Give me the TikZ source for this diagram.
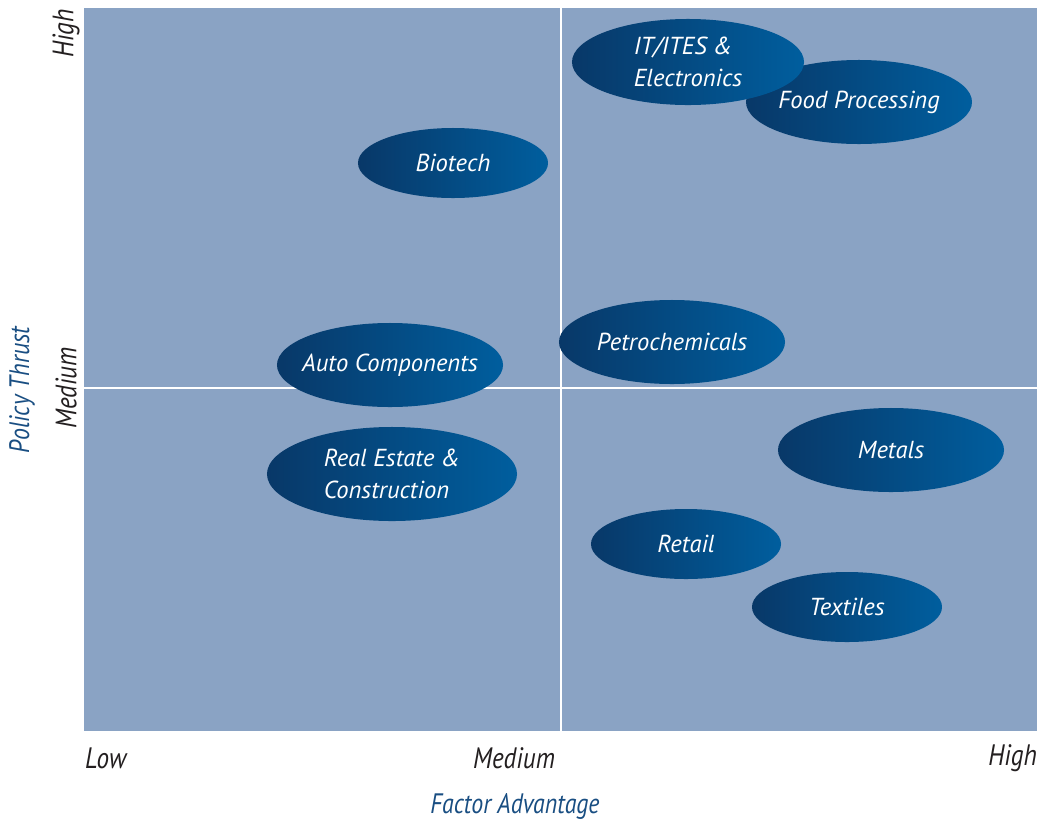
\documentclass[tikz,border=0pt]{standalone}
\usepackage{fontspec}
\usetikzlibrary{shapes.geometric}
\setmainfont{PT Sans}
\newfontfamily\axisfont[FakeStretch=0.85]{PT Sans}
\definecolor{panel}{RGB}{138,163,196}
\definecolor{darkblob}{RGB}{8,56,104}
\definecolor{lightblob}{RGB}{0,94,158}
\definecolor{axisblue}{RGB}{25,78,130}
\definecolor{ink}{RGB}{35,31,32}
\tikzset{
    every picture/.style={line width=0.75pt},
    sector/.style={ellipse, inner xsep=-9pt, inner ysep=-4pt, shading=axis, shading angle=90,
        left color=darkblob, right color=lightblob, text=white,
        font=\itshape\fontsize{17.5}{23}\selectfont, align=left},
    tick/.style={text=ink, font=\axisfont\itshape\fontsize{21}{24}\selectfont},
    axistitle/.style={text=axisblue, font=\axisfont\itshape\fontsize{20}{24}\selectfont},
    divider/.style={white, line width=2pt}
}

\begin{document}
\begin{tikzpicture}[x=0.025cm, y=-0.025cm]
    	\useasboundingbox (0, 0) rectangle (1038, 823);
    	\fill[panel] (84, 8) rectangle (1037, 731);
    	\coordinate (T) at (561, 8);
    	\coordinate (B) at (561, 731);
    	\coordinate (L) at (84, 388);
    	\coordinate (R) at (1037, 388);
    	\draw[divider] (T) -- (B);
    	\draw[divider] (L) -- (R);
    	\node[sector, minimum width=5.65cm, minimum height=2.1cm](food) at (859, 102){Food Processing};
    	\node[sector, minimum width=5.8cm, minimum height=2.15cm](itites) at (688, 62){IT/ITES \&\\Electronics};
    	\node[sector, minimum width=4.75cm, minimum height=1.75cm](biotech) at (453, 163){Biotech};
    	\node[sector, minimum width=5.65cm, minimum height=2.1cm](petro) at (672, 342){Petrochemicals};
    	\node[sector, minimum width=5.65cm, minimum height=2.1cm](auto) at (390, 365){Auto Components};
    	\node[sector, minimum width=6.25cm, minimum height=2.35cm](estate) at (392, 474){Real Estate \&\\Construction};
    	\node[sector, minimum width=5.65cm, minimum height=2.1cm](metals) at (891, 450){Metals};
    	\node[sector, minimum width=4.75cm, minimum height=1.75cm](retail) at (686, 544){Retail};
    	\node[sector, minimum width=4.75cm, minimum height=1.75cm](textiles) at (847, 607){Textiles};
    	\node[tick, anchor=west](xlow) at (80, 758){Low};
    	\node[tick](xmed) at (514, 758){Medium};
    	\node[tick, anchor=east](xhigh) at (1042, 758){High};
    	\node[axistitle](xtitle) at (515, 806){Factor Advantage};
    	\node[tick, rotate=90, anchor=east](yhigh) at (66, 4){High};
    	\node[tick, rotate=90](ymed) at (66, 388){Medium};
    	\node[axistitle, rotate=90](ytitle) at (22, 390){Policy Thrust};
    \end{tikzpicture}
\end{document}
